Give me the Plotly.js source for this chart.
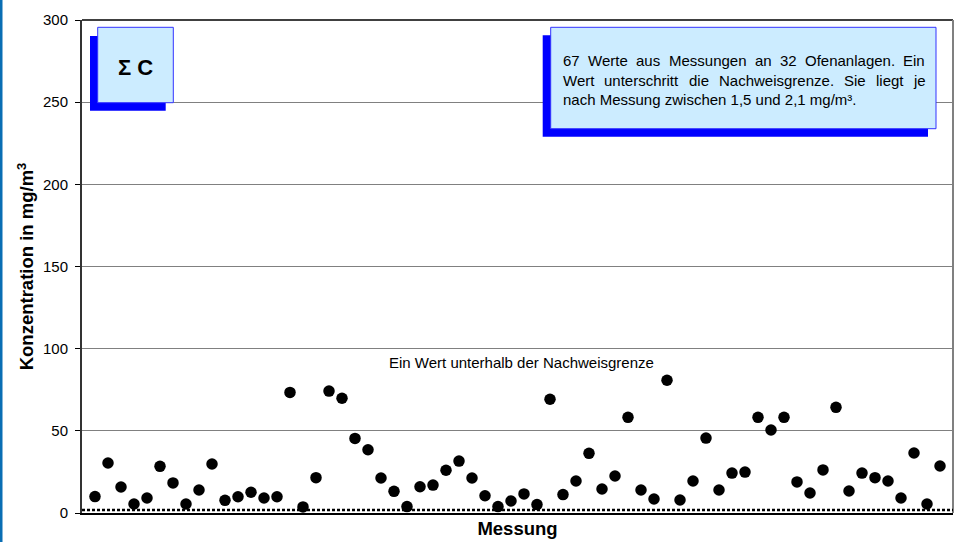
<!DOCTYPE html>
<html>
<head>
<meta charset="utf-8">
<script src="https://cdn.plot.ly/plotly-3.0.1.min.js"></script>
<style>
html,body{margin:0;padding:0;background:#fff;}
#chart{width:959px;height:542px;}
</style>
</head>
<body>
<div id="chart"></div>
<script>
// ---- data ----
const messung = [1,2,3,4,5,6,7,8,9,10,11,12,13,14,15,16,17,18,19,20,21,22,23,24,25,26,27,28,29,30,31,32,33,34,35,36,37,38,39,40,41,42,43,44,45,46,47,48,49,50,51,52,53,54,55,56,57,58,59,60,61,62,63,64,65,66];
const konzentration = [10,30.4,15.8,5.5,9.1,28.4,18.3,5.5,14,29.8,7.7,9.9,12.6,9.1,9.9,73.4,3.7,21.5,74.2,69.8,45.4,38.5,21.3,13.2,3.9,16,17,26,31.6,21.3,10.5,3.9,7.3,11.6,5.1,69.2,11.2,19.5,36.3,14.6,22.5,58.2,14,8.5,80.8,7.9,19.5,45.6,14,24.3,24.9,58.2,50.5,58.2,18.9,12.2,26.2,64.3,13.4,24.3,21.5,19.5,9.1,36.5,5.5,28.6];
const yTicks = [0,50,100,150,200,250,300];
const nachweisgrenze = 1.8;
const infoLines = [
  "67 Werte aus Messungen an 32 Ofenanlagen. Ein",
  "Wert unterschritt die Nachweisgrenze. Sie liegt je",
  "nach Messung zwischen 1,5 und 2,1 mg/m³."
];
const boxTitle = "Σ C";
const noteText = "Ein Wert unterhalb der Nachweisgrenze";

// ---- layout helpers (pixel -> paper) ----
const L = 82, R = 953, T = 20, B = 513;
const xp = px => (px - L) / (R - L);
const yp = py => (B - py) / (B - T);

const FONT = "Arial, 'Liberation Sans', sans-serif";

const shapes = [
  // left blue strip
  {type:'rect', xref:'paper', yref:'paper', x0:xp(0), x1:xp(2.5), y0:yp(542), y1:yp(0), fillcolor:'#0A6EB4', line:{width:0}, layer:'below'},
  // top border
  {type:'line', xref:'paper', yref:'paper', x0:0, x1:1, y0:1, y1:1, line:{color:'#000', width:1.3}},
  // right border
  {type:'line', xref:'paper', yref:'paper', x0:1, x1:1, y0:0, y1:1, line:{color:'#808080', width:2}},
  // detection limit dashed line
  {type:'line', xref:'paper', yref:'y', x0:0, x1:1, y0:nachweisgrenze, y1:nachweisgrenze, line:{color:'#000', width:2.5, dash:'3px,2px'}},
  // sigma box shadow + box
  {type:'rect', xref:'paper', yref:'paper', x0:xp(90), x1:xp(165.7), y0:yp(110.7), y1:yp(36), fillcolor:'#0000FF', line:{width:0}},
  {type:'rect', xref:'paper', yref:'paper', x0:xp(97.7), x1:xp(173.3), y0:yp(102.7), y1:yp(27.3), fillcolor:'#CCECFF', line:{color:'#3333FF', width:1}},
  // info box shadow + box
  {type:'rect', xref:'paper', yref:'paper', x0:xp(542.7), x1:xp(928), y0:yp(136.7), y1:yp(35.3), fillcolor:'#0000FF', line:{width:0}},
  {type:'rect', xref:'paper', yref:'paper', x0:xp(550.7), x1:xp(936), y0:yp(128.7), y1:yp(27.3), fillcolor:'#CCECFF', line:{color:'#3333FF', width:1}}
];

const annotations = [
  {xref:'paper', yref:'paper', x:xp(135.5), y:yp(67), text:'<b>'+boxTitle+'</b>', showarrow:false, font:{family:FONT, size:22, color:'#000'}, xanchor:'center', yanchor:'middle'},
  {xref:'paper', yref:'paper', x:xp(521), y:yp(362), text:noteText, showarrow:false, font:{family:FONT, size:15, color:'#000'}, xanchor:'center', yanchor:'middle'}
];

// justified info text
const fs = 15;
const cv = document.createElement('canvas').getContext('2d');
cv.font = fs + "px Arial, 'Liberation Sans', sans-serif";
const textLeft = 563, textRight = 925;
const lineY = [60, 80, 99];
infoLines.forEach((line, li) => {
  const words = line.split(' ');
  if (li === infoLines.length - 1) {
    annotations.push({xref:'paper', yref:'paper', x:xp(textLeft-2), y:yp(lineY[li]), text:line, showarrow:false, font:{family:FONT, size:fs, color:'#000'}, xanchor:'left', yanchor:'middle'});
    return;
  }
  const widths = words.map(w => cv.measureText(w).width);
  const total = widths.reduce((a,b)=>a+b,0);
  const gap = (textRight - textLeft - total) / (words.length - 1);
  let x = textLeft;
  words.forEach((w, wi) => {
    annotations.push({xref:'paper', yref:'paper', x:xp(x-2), y:yp(lineY[li]), text:w, showarrow:false, font:{family:FONT, size:fs, color:'#000'}, xanchor:'left', yanchor:'middle'});
    x += widths[wi] + gap;
  });
});

const trace = {
  x: messung,
  y: konzentration,
  type: 'scatter',
  mode: 'markers',
  marker: {color:'#000', size:11.5, line:{width:0}},
  cliponaxis: false,
  hoverinfo: 'x+y'
};

const layout = {
  width: 959, height: 542,
  margin: {l:L, r:959-R, t:T, b:542-B, pad:0},
  paper_bgcolor: '#fff', plot_bgcolor: '#fff',
  showlegend: false,
  font: {family: FONT, color:'#000'},
  xaxis: {
    range: [0, 67], showticklabels: false, ticks: '', showgrid: false, zeroline: false,
    showline: true, linecolor: '#000', linewidth: 1.5,
    title: {text:'<b>Messung</b>', font:{family:FONT, size:18.5, color:'#000'}, standoff: 8}
  },
  yaxis: {
    range: [0, 300], tickvals: yTicks, ticktext: yTicks.map(String),
    ticks: 'outside', ticklen: 5, tickcolor: '#000', tickwidth: 1,
    ticklabelstandoff: 4,
    tickfont: {family:FONT, size:15, color:'#000'},
    showgrid: true, gridcolor: '#808080', gridwidth: 1.3, zeroline: false,
    showline: true, linecolor: '#333', linewidth: 2,
    title: {text:'<b>Konzentration in mg/m<sup>3</sup></b>', font:{family:FONT, size:18.5, color:'#000'}, standoff: 4}
  },
  shapes: shapes,
  annotations: annotations
};

Plotly.newPlot('chart', [trace], layout, {displayModeBar:false, staticPlot:true});
</script>
</body>
</html>
